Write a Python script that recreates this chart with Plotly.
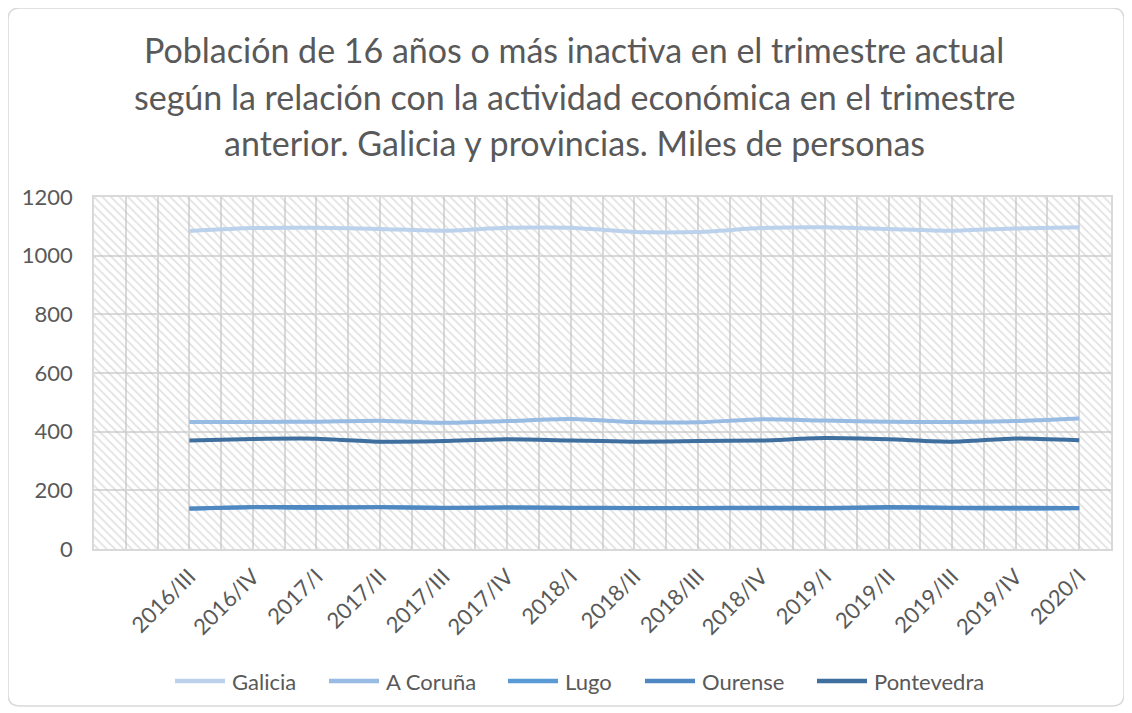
import plotly.graph_objects as go

quarters = ["2016/III", "2016/IV", "2017/I", "2017/II", "2017/III", "2017/IV",
            "2018/I", "2018/II", "2018/III", "2018/IV", "2019/I", "2019/II",
            "2019/III", "2019/IV", "2020/I"]

galicia = [1084, 1094, 1095, 1091, 1085, 1095, 1095, 1081, 1081, 1094, 1097, 1091, 1085, 1093, 1097]
a_coruna = [433, 433, 434, 437, 430, 436, 443, 433, 432, 442, 438, 434, 433, 436, 445]
lugo = [137, 142, 140, 143, 141, 141, 140, 139, 139, 139, 138, 141, 140, 137, 139]
ourense = [138, 143, 143, 142, 140, 142, 141, 140, 140, 141, 140, 143, 141, 141, 140]
pontevedra = [370, 375, 376, 366, 368, 374, 370, 366, 368, 370, 378, 374, 366, 377, 371]

series_names = ["Galicia", "A Coruña", "Lugo", "Ourense", "Pontevedra"]
series_values = [galicia, a_coruna, lugo, ourense, pontevedra]
series_colors = ["#bcd2ec", "#98bbe3", "#5b9bd5", "#4f88c1", "#3f6f9e"]

title_lines = [
    "Población de 16 años o más inactiva en el trimestre actual",
    "según la relación con la actividad económica en el trimestre",
    "anterior. Galicia y provincias. Miles de personas",
]

x_idx = list(range(len(quarters)))
X_RANGE = [-1.5, len(quarters) - 0.5]
Y_RANGE = [0, 1200]

FONT = "Lato"
TXT = "#595959"
GRID = "#d9d9d9"

# page pixel -> paper coordinate helpers (plot area spans x 94..1111, y 197..549 on screen)
PL, PR, PT, PB = 94, 1111, 197, 549
def px(xs):
    return (xs - PL) / (PR - PL)
def py(ys):
    return (PB - ys) / (PB - PT)

fig = go.Figure()

# hatched plot-area background
fig.add_trace(go.Scatter(
    x=[X_RANGE[0], X_RANGE[1], X_RANGE[1], X_RANGE[0], X_RANGE[0]],
    y=[Y_RANGE[0], Y_RANGE[0], Y_RANGE[1], Y_RANGE[1], Y_RANGE[0]],
    mode="none", fill="toself", fillcolor="rgba(0,0,0,0)",
    fillpattern=dict(shape="\\", fgcolor="#c4c4c4", size=6, solidity=0.3),
    showlegend=False, hoverinfo="skip",
))

for name, vals, color in zip(series_names, series_values, series_colors):
    fig.add_trace(go.Scatter(
        x=x_idx, y=vals, name=name, mode="lines", showlegend=False,
        line=dict(color=color, width=4, shape="spline", smoothing=0.6),
    ))

annotations = []
# title, one annotation per line
for ys, line in zip([49, 96, 142], title_lines):
    annotations.append(dict(
        text=line, xref="paper", yref="paper", x=px(574), y=py(ys),
        xanchor="center", yanchor="middle", showarrow=False,
        font=dict(family=FONT, size=34, color=TXT),
    ))

# legend (drawn manually to match the reference spacing)
shapes = []
legend_x = [175, 329, 508, 645, 817]
LEG_Y = 681
for xs, name, color in zip(legend_x, series_names, series_colors):
    shapes.append(dict(
        type="line", xref="paper", yref="paper",
        x0=px(xs), x1=px(xs + 50), y0=py(LEG_Y), y1=py(LEG_Y),
        line=dict(color=color, width=4.5),
    ))
    annotations.append(dict(
        text=name, xref="paper", yref="paper", x=px(xs + 55), y=py(LEG_Y),
        xanchor="left", yanchor="middle", showarrow=False,
        font=dict(family=FONT, size=22, color=TXT),
    ))

# outer chart border with rounded corners
bx0, bx1, by0, by1 = px(8), px(1124), py(706), py(8)
rx, ry = 12 / (PR - PL), 12 / (PB - PT)
path = (f"M {bx0 + rx},{by1} L {bx1 - rx},{by1} Q {bx1},{by1} {bx1},{by1 - ry} "
        f"L {bx1},{by0 + ry} Q {bx1},{by0} {bx1 - rx},{by0} "
        f"L {bx0 + rx},{by0} Q {bx0},{by0} {bx0},{by0 + ry} "
        f"L {bx0},{by1 - ry} Q {bx0},{by1} {bx0 + rx},{by1} Z")
shapes.append(dict(
    type="path", xref="paper", yref="paper", path=path,
    line=dict(color="#d9d9d9", width=1.5), fillcolor="rgba(0,0,0,0)", layer="below",
))

fig.update_layout(
    width=1124, height=705,
    paper_bgcolor="white", plot_bgcolor="white",
    margin=dict(l=86, r=21, t=189, b=164, autoexpand=False),
    font=dict(family=FONT, color=TXT),
    showlegend=False,
    annotations=annotations,
    shapes=shapes,
)

fig.update_xaxes(
    range=X_RANGE, tickmode="array", tickvals=x_idx, ticktext=quarters,
    tickangle=-45, tickfont=dict(family=FONT, size=22, color=TXT),
    showgrid=True, gridcolor=GRID, gridwidth=1.5,
    minor=dict(dtick=0.5, tick0=-1.5, showgrid=True, gridcolor=GRID, gridwidth=1.5),
    showline=True, mirror=True, linecolor=GRID, linewidth=2,
    ticks="outside", ticklen=4, tickcolor="rgba(0,0,0,0)",
    zeroline=False, fixedrange=True, automargin=False,
)
fig.update_yaxes(
    range=Y_RANGE, dtick=200, tickfont=dict(family=FONT, size=22, color=TXT),
    showgrid=True, gridcolor=GRID, gridwidth=1.5,
    showline=True, mirror=True, linecolor=GRID, linewidth=1.5,
    ticks="outside", ticklen=15, tickcolor="rgba(0,0,0,0)",
    zeroline=False, fixedrange=True, automargin=False,
)

fig.write_html("out.html")
